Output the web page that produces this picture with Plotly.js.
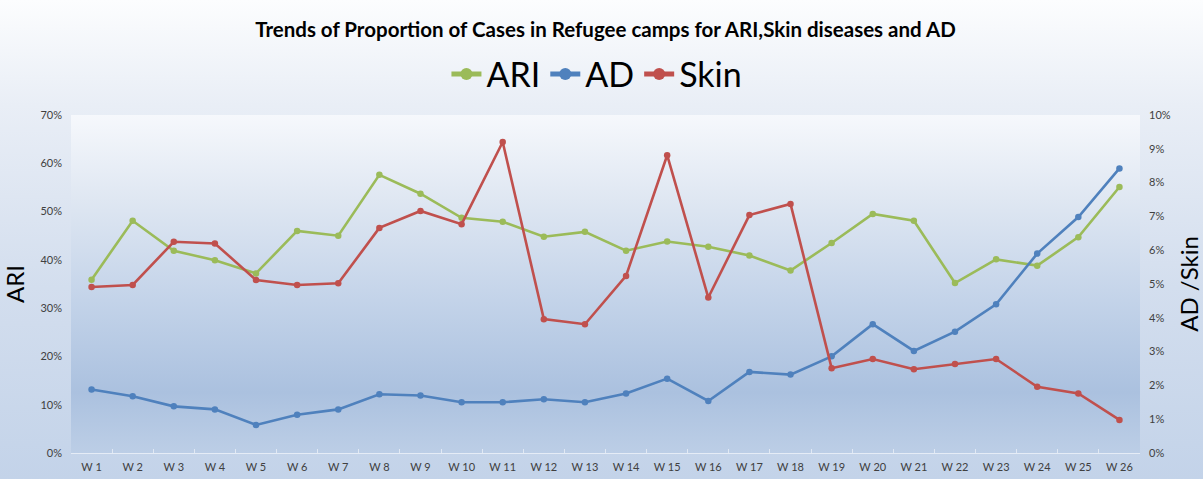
<!DOCTYPE html>
<html>
<head>
<meta charset="utf-8">
<script src="https://cdn.plot.ly/plotly-3.0.1.min.js"></script>
<style>
  html, body { margin: 0; padding: 0; }
  #wrap { position: relative; width: 1203px; height: 479px;
    background: linear-gradient(to bottom, #fcfdfe 0%, #e9eef6 22%, #d3deee 60%, #c3d3e9 100%); }
  #plotbg { position: absolute; left: 71px; top: 115px; width: 1069px; height: 338px;
    background: linear-gradient(to bottom, #f6f8fc 0%, #dfe7f2 25%, #c3d3e9 55%, #abc1df 82%, #bccee6 100%); }
  #chart { position: absolute; left: 0; top: 0; width: 1203px; height: 479px; }
</style>
</head>
<body>
<div id="wrap">
  <div id="plotbg"></div>
  <div id="chart"></div>
</div>
<script>
const weeks = ["W 1","W 2","W 3","W 4","W 5","W 6","W 7","W 8","W 9","W 10","W 11","W 12","W 13",
  "W 14","W 15","W 16","W 17","W 18","W 19","W 20","W 21","W 22","W 23","W 24","W 25","W 26"];
const ari = [0.359,0.481,0.419,0.399,0.372,0.460,0.450,0.576,0.537,0.487,0.479,0.448,0.458,
  0.419,0.438,0.427,0.409,0.378,0.435,0.495,0.481,0.352,0.401,0.388,0.447,0.551];
const ad = [0.0188,0.0168,0.0138,0.0129,0.0083,0.0113,0.0129,0.0174,0.0170,0.0150,0.0150,0.0159,0.0150,
  0.0176,0.0220,0.0154,0.0240,0.0232,0.0286,0.0381,0.0302,0.0359,0.0440,0.0590,0.0698,0.0842];
const skin = [0.0491,0.0497,0.0625,0.0620,0.0512,0.0497,0.0502,0.0666,0.0716,0.0677,0.0920,0.0396,0.0381,
  0.0524,0.0881,0.0460,0.0704,0.0737,0.0251,0.0278,0.0248,0.0263,0.0278,0.0196,0.0176,0.0098];

const FONT = "Lato, 'Open Sans', sans-serif";
const mk = (name, y, color, axis) => ({
  x: weeks, y: y, name: name, type: 'scatter', mode: 'lines+markers', yaxis: axis,
  line: {color: color, width: 2.6}, marker: {color: color, size: 6.5}
});
const traces = [
  mk('ARI', ari, '#9bbb59', 'y'),
  mk('AD', ad, '#4f81bd', 'y2'),
  mk('Skin', skin, '#c0504d', 'y2')
];
const layout = {
  width: 1203, height: 479,
  paper_bgcolor: 'rgba(0,0,0,0)', plot_bgcolor: 'rgba(0,0,0,0)',
  margin: {l: 71, r: 63, t: 115, b: 26, autoexpand: false},
  font: {family: FONT, color: '#404040', size: 11},
  title: {text: '<b>Trends of Proportion of Cases in Refugee camps for ARI,Skin diseases and AD</b>',
    font: {family: FONT, size: 20.5, color: '#000000'}, x: 0.5, xref: 'paper', xanchor: 'center',
    y: 0.937, yref: 'container', yanchor: 'middle'},
  showlegend: true,
  legend: {orientation: 'h', x: 0.492, xanchor: 'center', y: 1.12, yanchor: 'middle',
    font: {family: FONT, size: 34, color: '#000000'}, bgcolor: 'rgba(0,0,0,0)',
    itemwidth: 30, tracegroupgap: 0, itemsizing: 'constant'},
  xaxis: {type: 'category', range: [-0.5, weeks.length - 0.5], autorange: false, automargin: false,
    showgrid: false, zeroline: false, showline: true,
    linecolor: 'rgba(255,255,255,0.55)', linewidth: 1,
    ticks: 'inside', ticklen: 4, tickcolor: 'rgba(255,255,255,0.55)', tickson: 'boundaries',
    tickfont: {family: FONT, size: 11, color: '#404040'}, ticklabelstandoff: 4},
  yaxis: {range: [0, 0.7], dtick: 0.1, tickformat: '.0%', automargin: false, showgrid: false, zeroline: false,
    showline: false, ticks: '', tickfont: {family: FONT, size: 11, color: '#404040'},
    ticklabelstandoff: 8,
    title: {text: 'ARI', font: {family: FONT, size: 24, color: '#000000'}, standoff: 10}},
  yaxis2: {range: [0, 0.1], dtick: 0.01, tickformat: '.0%', overlaying: 'y', side: 'right', automargin: false,
    showgrid: false, zeroline: false, showline: false, ticks: '',
    tickfont: {family: FONT, size: 11, color: '#404040'}, ticklabelstandoff: 8,
    title: {text: 'AD /Skin', font: {family: FONT, size: 24, color: '#000000'}, standoff: 14}}
};
Plotly.newPlot('chart', traces, layout, {displayModeBar: false, staticPlot: true});
</script>
</body>
</html>
